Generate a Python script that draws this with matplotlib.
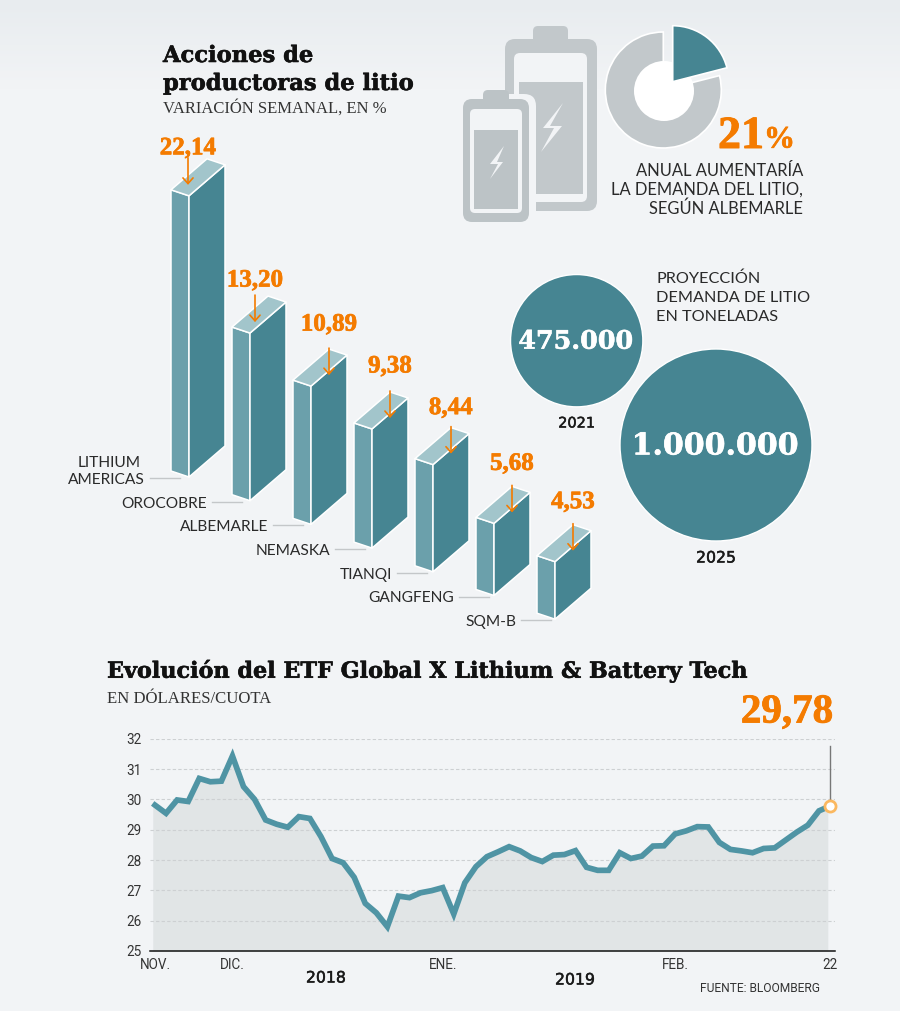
import numpy as np
import matplotlib
matplotlib.use("Agg")
import matplotlib.pyplot as plt
import matplotlib.patheffects as pe
from matplotlib.patches import Polygon, Circle, Wedge, FancyBboxPatch, Rectangle

# --- data ---
companies = ["LITHIUM\nAMERICAS", "OROCOBRE", "ALBEMARLE", "NEMASKA", "TIANQI", "GANGFENG", "SQM-B"]
weekly_change = [22.14, 13.20, 10.89, 9.38, 8.44, 5.68, 4.53]
demand_share = 21
demand_years = ["2021", "2025"]
demand_tons = [475000, 1000000]
demand_labels = ["475.000", "1.000.000"]

etf_price = [
    29.81, 29.54, 29.98, 29.93, 30.69, 30.58, 30.60, 31.43, 30.42, 30.00, 29.32,
    29.18, 29.08, 29.43, 29.37, 28.77, 28.05, 27.91, 27.43, 26.57, 26.26, 25.80,
    26.81, 26.76, 26.92, 26.99, 27.09, 26.22, 27.25, 27.78, 28.11, 28.27, 28.44,
    28.30, 28.08, 27.95, 28.16, 28.18, 28.31, 27.76, 27.66, 27.66, 28.24, 28.05,
    28.13, 28.46, 28.47, 28.86, 28.96, 29.10, 29.09, 28.58, 28.35, 28.30, 28.24,
    28.38, 28.40, 28.66, 28.92, 29.15, 29.62, 29.78,
]
month_pos = [0, 7, 26, 47, 61]
month_labels = ["NOV.", "DIC.", "ENE.", "FEB.", "22"]
price_ticks = [25, 26, 27, 28, 29, 30, 31, 32]

# --- colours and fonts ---
BG = "#f2f4f6"
TEAL = "#468592"
TEAL_LEFT = "#6ba0ab"
TEAL_TOP = "#a2c5cb"
LINE = "#4f94a4"
FILL = "#e1e5e6"
ORANGE = "#f47b00"
GREY = "#c2c8cb"
INK = "#2a2a2a"
SERIF = "DejaVu Serif"
NUM = "Liberation Serif"
SANS = "Lato"

W, H = 900, 1011
fig = plt.figure(figsize=(W / 100, H / 100), dpi=100, facecolor=BG)

# full figure axes, units are pixels, y goes down
px = fig.add_axes([0, 0, 1, 1])
px.axis("off")

# soft gradient at the top of the page
grad = np.linspace(0, 1, 90).reshape(-1, 1)
px.imshow(grad, extent=(0, W, 90, 0), cmap=matplotlib.colors.LinearSegmentedColormap.from_list("bg", ["#e8ecef", BG]),
          aspect="auto", zorder=0)
px.set_xlim(0, W)
px.set_ylim(H, 0)


def label(x, y, s, size, stroke=0, **kw):
    kw.setdefault("family", SANS)
    kw.setdefault("color", INK)
    kw.setdefault("va", "center")
    t = px.text(x, y, s, fontsize=size * 0.72, **kw)
    if stroke:
        # the fonts here are a bit lighter than the original ones
        t.set_path_effects([pe.withStroke(linewidth=stroke, foreground=kw["color"])])
    return t


# titles
label(163, 56, "Acciones de", 22.6, stroke=0.4, family=SERIF, weight="bold", color="#111111")
label(163, 84, "productoras de litio", 22.6, stroke=0.4, family=SERIF, weight="bold", color="#111111")
label(163, 108, "VARIACIÓN SEMANAL, EN %", 16.6, family="Liberation Serif", color="#333333")

# --- isometric bars, height comes from the value ---
PX_PER_UNIT = 12.7
bar_x0, bar_step = 171, 61
bar_base0, bar_base_step = 471, 23.7
arrow_dx = [17, 23, 36, 36, 36, 36, 36]
value_dy = [42, 47, 56, 57, 51, 54, 54]
label_right = [145, 207, 268, 330, 392, 454, 516]

for i, (name, val) in enumerate(zip(companies, weekly_change)):
    x = bar_x0 + bar_step * i
    base = bar_base0 + bar_base_step * i
    top = base - val * PX_PER_UNIT
    edge = dict(edgecolor="white", linewidth=1.1, joinstyle="round", zorder=2)
    px.add_patch(Polygon([(x, top), (x + 18, top + 6), (x + 18, base + 6), (x, base)], facecolor=TEAL_LEFT, **edge))
    px.add_patch(Polygon([(x + 18, top + 6), (x + 54, top - 25), (x + 54, base - 25), (x + 18, base + 6)],
                         facecolor=TEAL, **edge))
    px.add_patch(Polygon([(x, top), (x + 36, top - 31), (x + 54, top - 25), (x + 18, top + 6)],
                         facecolor=TEAL_TOP, **edge))

    ax_ = x + arrow_dx[i]
    px.annotate("", xy=(ax_, top - 5), xytext=(ax_, top - 32), zorder=3,
                arrowprops=dict(arrowstyle="->,head_width=0.33,head_length=0.37", mutation_scale=11,
                                color=ORANGE, lw=1.2, shrinkA=0, shrinkB=0))
    label(ax_, top - value_dy[i], f"{val:.2f}".replace(".", ","), 25, stroke=0.5, family=NUM, weight="bold",
          color=ORANGE, ha="center", zorder=4)

    # name and leader line
    ly = base + 7
    if "\n" in name:
        first, second = name.split("\n")
        label(109, ly - 15, first, 15.5, ha="center")
        label(label_right[i], ly + 2, second, 15.5, ha="right")
    else:
        label(label_right[i], ly + 2, name, 15.5, ha="right")
    px.plot([label_right[i] + 5, label_right[i] + 35], [ly, ly], color="#c4c7c9", lw=1)


# --- batteries ---
def rbox(x0, y0, x1, y1, r, fc):
    px.add_patch(FancyBboxPatch((x0 + r, y0 + r), x1 - x0 - 2 * r, y1 - y0 - 2 * r,
                                boxstyle=f"round,pad={r},rounding_size={r}", fc=fc, ec="none", zorder=2))


rbox(533, 26, 568, 50, 5, GREY)
rbox(505, 39, 597, 211, 10, GREY)
rbox(514, 53, 587, 202, 6, BG)
px.add_patch(Rectangle((519, 82), 64, 112, fc=GREY, ec="none", zorder=2))
px.add_patch(Polygon([(563, 103), (543, 128), (554, 128), (541, 152), (562, 126), (550, 126)], fc=BG, ec="none", zorder=2))
rbox(459, 94, 536, 226, 12, BG)
rbox(483, 90, 509, 110, 5, "#bcc3c6")
rbox(463, 99, 529, 222, 9, "#bcc3c6")
rbox(470, 109, 522, 213, 5, BG)
px.add_patch(Rectangle((474, 130), 44, 79, fc="#bcc3c6", ec="none", zorder=2))
px.add_patch(Polygon([(504, 146), (490, 164), (498, 164), (490, 179), (503, 162), (497, 162)], fc=BG, ec="none", zorder=2))

# --- donut ---
sweep = demand_share / 100 * 360
px.add_patch(Wedge((663.3, 90), 58, -90 + sweep, 270, fc=GREY, ec="white", lw=1.2, zorder=2))
px.add_patch(Circle((664, 91), 30, fc="white", ec="none", zorder=2))
px.add_patch(Wedge((672.7, 81.7), 56, -90, -90 + sweep, fc=TEAL, ec="white", lw=1.2, zorder=3))

label(718, 137, f"{demand_share}", 46, stroke=0.7, family=NUM, weight="bold", color=ORANGE, zorder=4)
label(764, 140, "%", 31, stroke=0.5, family=NUM, weight="bold", color=ORANGE, zorder=4)
label(803, 171, "ANUAL AUMENTARÍA", 16.5, ha="right")
label(803, 190, "LA DEMANDA DEL LITIO,", 16.5, ha="right")
label(803, 209, "SEGÚN ALBEMARLE", 16.5, ha="right")

# --- demand circles, area follows the tonnage ---
label(656, 279, "PROYECCIÓN", 16.3)
label(656, 298, "DEMANDA DE LITIO", 16.3)
label(656, 317, "EN TONELADAS", 16.3)

R_MAX = 96
circle_xy = [(576.7, 340.7), (716, 445)]
circle_font = [25.4, 30]
year_y = [423, 558]
year_font = [14.5, 15.7]
for j, ((cx, cy), tons, txt) in enumerate(zip(circle_xy, demand_tons, demand_labels)):
    r = R_MAX * np.sqrt(tons / max(demand_tons))
    px.add_patch(Circle((cx, cy), r, fc=TEAL, ec="white", lw=1, zorder=2))
    label(cx - 1, cy + 1, txt, circle_font[j], stroke=0.4, family=SERIF, weight="bold", color="white",
          ha="center", zorder=3)
    label(cx, year_y[j], demand_years[j], year_font[j], stroke=0.35, family="DejaVu Sans", ha="center", color="#1a1a1a")

# --- ETF line chart ---
label(107, 671, "Evolución del ETF Global X Lithium & Battery Tech", 22.3, stroke=0.4, family=SERIF,
      weight="bold", color="#111111")
label(107, 699, "EN DÓLARES/CUOTA", 16.7, family="Liberation Serif", color="#333333")

idx = np.arange(len(etf_price))
ax = fig.add_axes([150 / W, 1 - 951 / H, 685 / W, (951 - 738.7) / H], facecolor="none")
ax.fill_between(idx - 0.2, etf_price, 25, color=FILL, lw=0)
ax.plot(idx, etf_price, color=LINE, lw=4.1, solid_joinstyle="miter", zorder=3)
ax.plot([idx[-1], idx[-1]], [etf_price[-1], 31.75], color="#777777", lw=1, zorder=2, clip_on=False)
ax.plot(idx[-1], etf_price[-1], "o", ms=8, mfc="white", mec="#fbb860", mew=2, zorder=4, clip_on=False)
ax.set_xlim(-0.45, 61.45)
ax.set_ylim(25, 32)
ax.set_yticks(price_ticks)
ax.set_xticks(month_pos, month_labels)
ax.grid(axis="y", color="#cdd0d2", lw=0.8, ls=(0, (3, 2)))
ax.tick_params(length=0, labelsize=13.5 * 0.72, labelcolor="#333333", pad=5)
ax.tick_params(axis="y", pad=6)
for tl in ax.get_xticklabels() + ax.get_yticklabels():
    tl.set_family("Roboto")
for side in ["top", "left", "right"]:
    ax.spines[side].set_visible(False)
ax.spines["bottom"].set_linewidth(1.1)
ax.spines["bottom"].set_color("#111111")

label(833, 713, f"{etf_price[-1]:.2f}".replace(".", ","), 41, stroke=0.6, family=NUM, weight="bold",
      color=ORANGE, ha="right")
label(326, 978, "2018", 15.7, stroke=0.35, family="DejaVu Sans", ha="center", color="#1a1a1a")
label(575, 980, "2019", 15.7, stroke=0.35, family="DejaVu Sans", ha="center", color="#1a1a1a")
label(820, 989, "FUENTE: BLOOMBERG", 12, family="Roboto", ha="right", color="#333333")

fig.savefig("out.png", dpi=100, facecolor=BG)
